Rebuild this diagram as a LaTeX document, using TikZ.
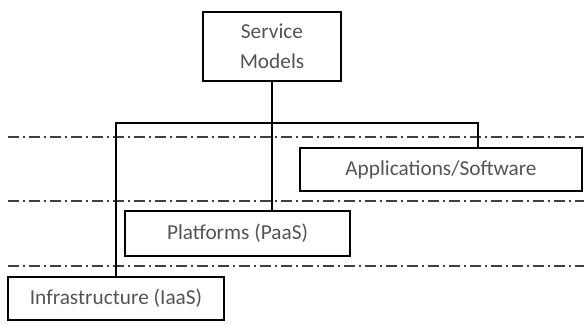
\documentclass[tikz,border=0pt]{standalone}
\usepackage{fontspec}
\setmainfont{Carlito}
\usepackage{xcolor}
\usepackage{tikz}
\usetikzlibrary{calc}
\definecolor{txtgray}{rgb}{0.33, 0.33, 0.33}
\definecolor{linegray}{rgb}{0.25, 0.25, 0.25}

\begin{document}
\begin{tikzpicture}[x=1pt, y=-1pt,
    modelbox/.style={draw, line width=1.4pt, text=txtgray, inner sep=0pt,
        font=\fontsize{21.3}{30}\selectfont, align=center},
    layerline/.style={linegray, line width=1.6pt, dash pattern=on 11pt off 4pt on 2pt off 4pt},
    link/.style={line width=1.1pt}]
            \useasboundingbox (0,0) rectangle (584,328);

            % Boxes
            \node[modelbox, minimum width=138pt, minimum height=69pt] (svc) at (272,46.5) {Service\\Models};
            \node[modelbox, minimum width=282pt, minimum height=43pt] (apps) at (441,169.5) {Applications/Software};
            \node[modelbox, minimum width=225pt, minimum height=45pt] (paas) at (237.5,233.5) {Platforms (PaaS)};
            \node[modelbox, minimum width=216pt, minimum height=43pt] (iaas) at (116,298.5) {Infrastructure (IaaS)};

            % Layer borders
            \foreach \y in {137,201,266}
                \draw[layerline] (8,\y) -- (584,\y);

            % Links
            \coordinate (busend) at (478,123);
            \draw[link] (svc.south) -- (svc.south |- paas.north);
            \draw[link] (iaas.north) |- (busend) -- (busend |- apps.north);
        \end{tikzpicture}
\end{document}
